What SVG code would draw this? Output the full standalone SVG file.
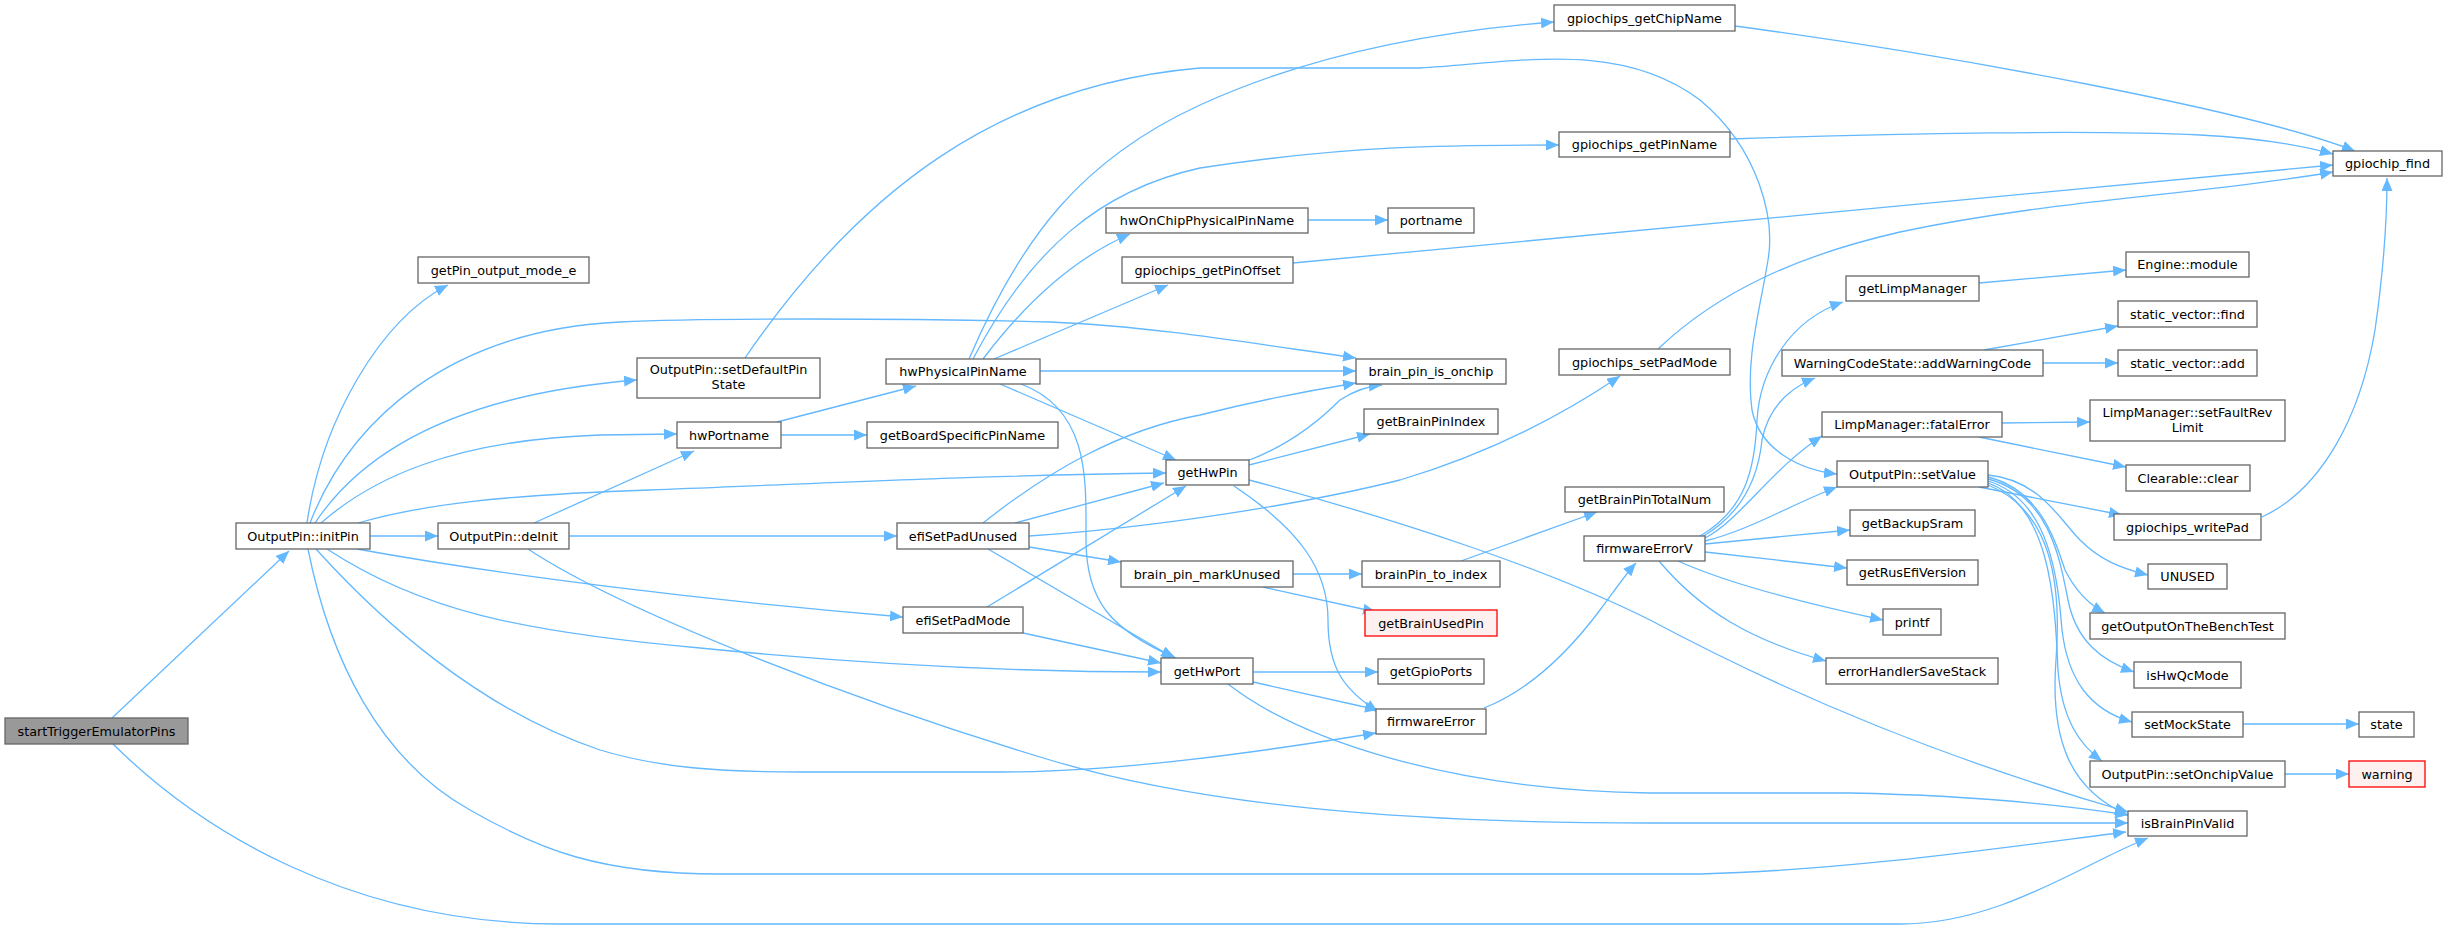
<svg xmlns="http://www.w3.org/2000/svg" width="2447" height="930" viewBox="0 0 2447 930">
<defs>
<marker id="a" markerUnits="userSpaceOnUse" markerWidth="14" markerHeight="11" refX="13" refY="5.5" orient="auto"><path d="M0,0 L13,5.5 L0,11 z" fill="#63b8ff"/></marker>
<style>
.n rect{fill:#fff;stroke:#666;stroke-width:1.3}
.n.root rect{fill:#999}
.n.red rect{fill:#fff0f0;stroke:#ff0000}
.n text{font-family:"DejaVu Sans",sans-serif;font-size:12.8px;fill:#000;text-anchor:middle}
#edges path{fill:none;stroke:#63b8ff;stroke-width:1.3;marker-end:url(#a)}
</style>
</defs>
<rect width="2447" height="930" fill="#fff"/>
<g id="edges">
<path d="M112,718 L289,551"/>
<path d="M113,744 C200,830 350,924 560,924 L1900,924 C2000,924 2080,865 2148,838"/>
<path d="M307,523 C322,420 380,320 448,285"/>
<path d="M310,523 C350,420 450,330 620,322 C700,318 900,318 1050,322 C1150,326 1250,343 1356,358"/>
<path d="M315,523 C360,455 450,395 637,380"/>
<path d="M321,523 C370,480 450,440 600,435 L677,434"/>
<path d="M358,523 C420,505 500,495 650,490 C850,482 1000,475 1166,473"/>
<path d="M370,536 L438,536"/>
<path d="M357,549 C500,575 700,600 903,617"/>
<path d="M327,549 C420,610 520,632 700,648 C900,668 1050,672 1161,672"/>
<path d="M316,549 C380,620 480,710 600,750 C660,768 720,772 800,772 L1000,772 C1120,772 1260,752 1376,733"/>
<path d="M308,549 C330,660 380,760 470,810 C540,850 600,874 720,874 L1700,874 C1850,870 2000,848 2126,832"/>
<path d="M534,523 L694,451"/>
<path d="M569,536 L897,536"/>
<path d="M528,549 C620,610 850,700 1050,760 C1200,805 1400,823 1650,823 L2128,823"/>
<path d="M745,358 C860,190 1000,85 1200,68 L1420,68 C1520,62 1620,40 1700,100 C1760,150 1775,220 1768,260 C1760,310 1745,360 1752,410 C1760,450 1800,470 1837,474"/>
<path d="M777,422 L916,386"/>
<path d="M781,435 L867,435"/>
<path d="M969,359 C1020,240 1080,160 1200,105 C1320,50 1450,30 1554,22"/>
<path d="M973,359 C1030,250 1100,190 1200,168 C1350,145 1450,145 1559,145"/>
<path d="M983,359 C1020,310 1070,260 1130,234"/>
<path d="M994,359 L1168,285"/>
<path d="M1040,371 L1356,371"/>
<path d="M1000,384 L1176,460"/>
<path d="M1021,384 C1090,410 1086,480 1086,540 C1086,600 1110,630 1176,658"/>
<path d="M1308,220 L1388,220"/>
<path d="M1735,26 C1950,55 2250,110 2355,151"/>
<path d="M1730,139 C1900,133 2100,130 2200,135 C2260,138 2300,145 2333,154"/>
<path d="M1293,263 L2333,165"/>
<path d="M1658,349 C1720,290 1800,255 1900,232 C2050,200 2200,195 2333,172"/>
<path d="M983,523 C1050,470 1120,430 1200,415 C1260,400 1300,392 1356,383"/>
<path d="M1015,523 L1164,483"/>
<path d="M1029,536 C1150,528 1300,505 1400,480 C1500,450 1570,410 1620,376"/>
<path d="M1029,547 L1121,562"/>
<path d="M988,549 L1174,658"/>
<path d="M987,607 L1186,486"/>
<path d="M1023,633 L1161,663"/>
<path d="M1247,461 C1290,445 1320,420 1340,400 C1355,390 1370,386 1382,385"/>
<path d="M1249,465 L1370,434"/>
<path d="M1234,486 C1300,530 1328,570 1328,620 C1328,670 1345,690 1378,712"/>
<path d="M1249,480 C1400,520 1550,570 1650,620 C1800,700 1950,760 2128,812"/>
<path d="M1293,574 L1362,574"/>
<path d="M1263,587 L1376,612"/>
<path d="M1461,561 L1597,512"/>
<path d="M1253,672 L1378,672"/>
<path d="M1253,682 L1378,710"/>
<path d="M1228,684 C1300,740 1450,790 1650,793 L1850,793 C1950,795 2050,803 2128,815"/>
<path d="M1484,708 C1530,690 1570,650 1600,610 C1615,590 1625,575 1636,563"/>
<path d="M1700,536 C1745,510 1755,470 1757,420 C1760,370 1790,320 1843,302"/>
<path d="M1702,537 C1740,515 1758,480 1762,440 C1768,410 1785,390 1815,378"/>
<path d="M1705,538 C1740,520 1770,470 1822,436"/>
<path d="M1705,541 C1750,530 1790,505 1837,487"/>
<path d="M1705,544 L1850,530"/>
<path d="M1705,552 L1847,568"/>
<path d="M1678,561 C1720,580 1780,598 1883,620"/>
<path d="M1659,561 C1700,610 1750,640 1826,661"/>
<path d="M1979,283 L2126,270"/>
<path d="M1984,350 L2118,326"/>
<path d="M2043,363 L2118,363"/>
<path d="M2002,423 L2090,422"/>
<path d="M1979,437 L2126,467"/>
<path d="M1979,487 L2122,515"/>
<path d="M1988,475 C2040,480 2060,520 2080,540 C2100,560 2120,568 2148,575"/>
<path d="M1988,477 C2040,490 2055,540 2065,570 C2075,590 2090,605 2105,613"/>
<path d="M1988,479 C2050,495 2060,560 2068,600 C2076,640 2100,660 2134,672"/>
<path d="M1988,481 C2050,500 2058,580 2062,630 C2068,680 2090,710 2132,722"/>
<path d="M1988,483 C2050,505 2055,600 2058,670 C2062,720 2080,745 2102,761"/>
<path d="M1988,485 C2050,510 2062,580 2056,660 C2050,740 2070,790 2128,815"/>
<path d="M2262,517 C2320,490 2360,420 2375,330 C2385,260 2387,210 2387,178"/>
<path d="M2243,724 L2359,724"/>
<path d="M2285,774 L2349,774"/>
</g>
<g id="n_start" class="n root"><rect x="5" y="718" width="183" height="26"/><text x="96.5" y="735.5">startTriggerEmulatorPins</text></g>
<g id="n_initPin" class="n"><rect x="236" y="523" width="134" height="26"/><text x="303" y="540.5">OutputPin::initPin</text></g>
<g id="n_getPin_output_mode_e" class="n"><rect x="418" y="257" width="171" height="26"/><text x="503.5" y="274.5">getPin_output_mode_e</text></g>
<g id="n_setDefaultPinState" class="n"><rect x="637" y="358" width="183" height="40"/><text x="728.5" y="374">OutputPin::setDefaultPin</text><text x="728.5" y="389">State</text></g>
<g id="n_hwPortname" class="n"><rect x="677" y="422" width="104" height="26"/><text x="729" y="439.5">hwPortname</text></g>
<g id="n_deInit" class="n"><rect x="438" y="523" width="131" height="26"/><text x="503.5" y="540.5">OutputPin::deInit</text></g>
<g id="n_hwPhysicalPinName" class="n"><rect x="886" y="359" width="154" height="25"/><text x="963" y="376">hwPhysicalPinName</text></g>
<g id="n_getBoardSpecificPinName" class="n"><rect x="867" y="422" width="191" height="26"/><text x="962.5" y="439.5">getBoardSpecificPinName</text></g>
<g id="n_efiSetPadUnused" class="n"><rect x="897" y="523" width="132" height="26"/><text x="963" y="540.5">efiSetPadUnused</text></g>
<g id="n_efiSetPadMode" class="n"><rect x="903" y="607" width="120" height="26"/><text x="963" y="624.5">efiSetPadMode</text></g>
<g id="n_hwOnChipPhysicalPinName" class="n"><rect x="1106" y="208" width="202" height="25"/><text x="1207" y="225">hwOnChipPhysicalPinName</text></g>
<g id="n_gpiochips_getPinOffset" class="n"><rect x="1122" y="257" width="171" height="26"/><text x="1207.5" y="274.5">gpiochips_getPinOffset</text></g>
<g id="n_gpiochips_getChipName" class="n"><rect x="1554" y="5" width="181" height="26"/><text x="1644.5" y="22.5">gpiochips_getChipName</text></g>
<g id="n_gpiochips_getPinName" class="n"><rect x="1559" y="132" width="171" height="25"/><text x="1644.5" y="149">gpiochips_getPinName</text></g>
<g id="n_portname" class="n"><rect x="1388" y="208" width="86" height="25"/><text x="1431" y="225">portname</text></g>
<g id="n_brain_pin_is_onchip" class="n"><rect x="1356" y="359" width="150" height="25"/><text x="1431" y="376">brain_pin_is_onchip</text></g>
<g id="n_getHwPin" class="n"><rect x="1166" y="460" width="83" height="25"/><text x="1207.5" y="477">getHwPin</text></g>
<g id="n_getBrainPinIndex" class="n"><rect x="1364" y="409" width="134" height="25"/><text x="1431" y="426">getBrainPinIndex</text></g>
<g id="n_brain_pin_markUnused" class="n"><rect x="1121" y="561" width="172" height="26"/><text x="1207" y="578.5">brain_pin_markUnused</text></g>
<g id="n_brainPin_to_index" class="n"><rect x="1362" y="561" width="138" height="26"/><text x="1431" y="578.5">brainPin_to_index</text></g>
<g id="n_getBrainUsedPin" class="n red"><rect x="1365" y="610" width="132" height="26"/><text x="1431" y="627.5">getBrainUsedPin</text></g>
<g id="n_getHwPort" class="n"><rect x="1161" y="658" width="92" height="26"/><text x="1207" y="675.5">getHwPort</text></g>
<g id="n_getGpioPorts" class="n"><rect x="1378" y="659" width="106" height="25"/><text x="1431" y="676">getGpioPorts</text></g>
<g id="n_firmwareError" class="n"><rect x="1376" y="709" width="110" height="25"/><text x="1431" y="726">firmwareError</text></g>
<g id="n_gpiochips_setPadMode" class="n"><rect x="1559" y="349" width="171" height="26"/><text x="1644.5" y="366.5">gpiochips_setPadMode</text></g>
<g id="n_getBrainPinTotalNum" class="n"><rect x="1565" y="487" width="159" height="25"/><text x="1644.5" y="504">getBrainPinTotalNum</text></g>
<g id="n_firmwareErrorV" class="n"><rect x="1584" y="536" width="121" height="25"/><text x="1644.5" y="553">firmwareErrorV</text></g>
<g id="n_getLimpManager" class="n"><rect x="1846" y="276" width="133" height="25"/><text x="1912.5" y="293">getLimpManager</text></g>
<g id="n_addWarningCode" class="n"><rect x="1782" y="350" width="261" height="26"/><text x="1912.5" y="367.5">WarningCodeState::addWarningCode</text></g>
<g id="n_fatalError" class="n"><rect x="1822" y="412" width="180" height="25"/><text x="1912" y="429">LimpManager::fatalError</text></g>
<g id="n_setValue" class="n"><rect x="1837" y="461" width="151" height="26"/><text x="1912.5" y="478.5">OutputPin::setValue</text></g>
<g id="n_getBackupSram" class="n"><rect x="1850" y="510" width="125" height="26"/><text x="1912.5" y="527.5">getBackupSram</text></g>
<g id="n_getRusEfiVersion" class="n"><rect x="1847" y="560" width="131" height="25"/><text x="1912.5" y="577">getRusEfiVersion</text></g>
<g id="n_printf" class="n"><rect x="1883" y="609" width="58" height="26"/><text x="1912" y="626.5">printf</text></g>
<g id="n_errorHandlerSaveStack" class="n"><rect x="1826" y="658" width="172" height="26"/><text x="1912" y="675.5">errorHandlerSaveStack</text></g>
<g id="n_Engine_module" class="n"><rect x="2126" y="252" width="123" height="25"/><text x="2187.5" y="269">Engine::module</text></g>
<g id="n_static_vector_find" class="n"><rect x="2118" y="301" width="139" height="26"/><text x="2187.5" y="318.5">static_vector::find</text></g>
<g id="n_static_vector_add" class="n"><rect x="2118" y="350" width="139" height="26"/><text x="2187.5" y="367.5">static_vector::add</text></g>
<g id="n_setFaultRevLimit" class="n"><rect x="2090" y="400" width="195" height="41"/><text x="2187.5" y="417">LimpManager::setFaultRev</text><text x="2187.5" y="432">Limit</text></g>
<g id="n_Clearable_clear" class="n"><rect x="2126" y="465" width="124" height="26"/><text x="2188" y="482.5">Clearable::clear</text></g>
<g id="n_gpiochips_writePad" class="n"><rect x="2114" y="514" width="147" height="26"/><text x="2187.5" y="531.5">gpiochips_writePad</text></g>
<g id="n_UNUSED" class="n"><rect x="2148" y="564" width="79" height="25"/><text x="2187.5" y="581">UNUSED</text></g>
<g id="n_getOutputOnTheBenchTest" class="n"><rect x="2090" y="613" width="195" height="26"/><text x="2187.5" y="630.5">getOutputOnTheBenchTest</text></g>
<g id="n_isHwQcMode" class="n"><rect x="2134" y="662" width="107" height="26"/><text x="2187.5" y="679.5">isHwQcMode</text></g>
<g id="n_setMockState" class="n"><rect x="2132" y="712" width="111" height="25"/><text x="2187.5" y="729">setMockState</text></g>
<g id="n_setOnchipValue" class="n"><rect x="2090" y="761" width="195" height="26"/><text x="2187.5" y="778.5">OutputPin::setOnchipValue</text></g>
<g id="n_isBrainPinValid" class="n"><rect x="2128" y="811" width="119" height="25"/><text x="2187.5" y="828">isBrainPinValid</text></g>
<g id="n_gpiochip_find" class="n"><rect x="2333" y="151" width="109" height="25"/><text x="2387.5" y="168">gpiochip_find</text></g>
<g id="n_state" class="n"><rect x="2359" y="712" width="55" height="25"/><text x="2386.5" y="729">state</text></g>
<g id="n_warning" class="n red"><rect x="2349" y="761" width="76" height="26"/><text x="2387" y="778.5">warning</text></g>
</svg>
